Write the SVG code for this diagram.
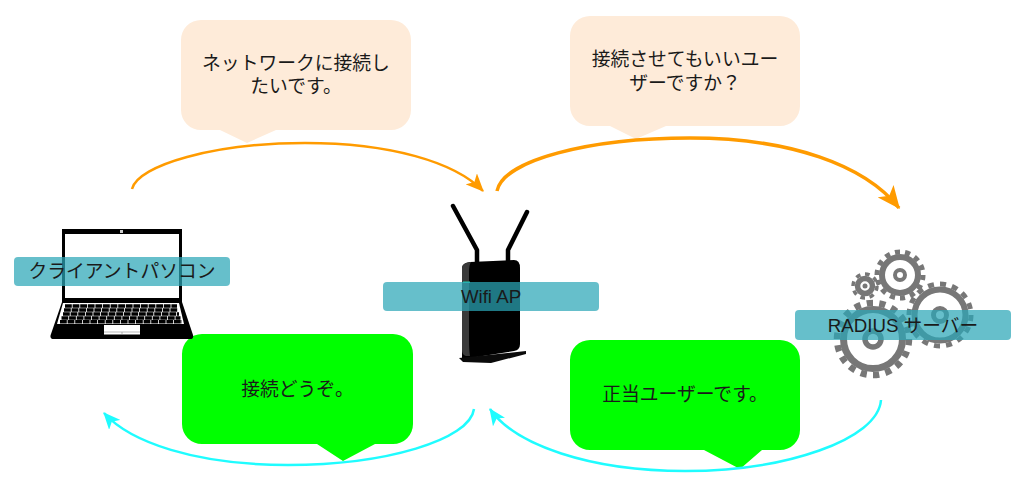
<svg xmlns="http://www.w3.org/2000/svg" width="1024" height="479" viewBox="0 0 1024 479">
<style>
text{font-family:"Noto Sans CJK JP","Liberation Sans",sans-serif;font-size:18.8px;fill:#1a1a1a;text-anchor:middle;font-weight:400}
.lat{font-family:"Liberation Sans","Noto Sans CJK JP",sans-serif;font-size:18.7px}
.label{fill:#2ba6b7;fill-opacity:.72}
.peach{fill:#feebd9}
.green{fill:#00ff00}
.or{fill:none;stroke:#ff9b00}
.cy{fill:none;stroke:#1ffcff;stroke-width:2.500}
.gear{fill:none;stroke:#777}
.key{fill:none;stroke:#000;stroke-width:3.500;stroke-dasharray:6.800 .8}
</style>
<defs>
<marker id="ao" viewBox="0 0 16 14" refX="15" refY="7" markerUnits="userSpaceOnUse" markerWidth="18" markerHeight="16" orient="auto"><path d="M0 0L16 7L0 14L4 7Z" fill="#ff9b00"/></marker>
<marker id="ao2" viewBox="0 0 16 14" refX="15" refY="7" markerUnits="userSpaceOnUse" markerWidth="23" markerHeight="20" orient="auto"><path d="M0 0L16 7L0 14L4 7Z" fill="#ff9b00"/></marker>
<marker id="ac" viewBox="0 0 16 14" refX="15" refY="7" markerUnits="userSpaceOnUse" markerWidth="17" markerHeight="15" orient="auto"><path d="M0 0L16 7L0 14L4 7Z" fill="#1ffcff"/></marker>
</defs>
<g id="bubble-request">
<path class="peach" d="M201 20H391a20 20 0 0 1 20 20V110a20 20 0 0 1-20 20H276L247 143L220 130H201a20 20 0 0 1-20-20V40a20 20 0 0 1 20-20Z"/>
<text x="296" y="69.500">ネットワークに接続し</text><text x="296" y="93">たいです。</text>
</g>
<g id="bubble-query">
<path class="peach" d="M590 16H780a20 20 0 0 1 20 20V106a20 20 0 0 1-20 20H666L636 139L610 126H590a20 20 0 0 1-20-20V36a20 20 0 0 1 20-20Z"/>
<text x="685" y="66">接続させてもいいユー</text><text x="685" y="90">ザーですか？</text>
</g>
<g id="bubble-ok">
<path class="green" d="M202 334H393a20 20 0 0 1 20 20V424a20 20 0 0 1-20 20H375L343 461L317 444H202a20 20 0 0 1-20-20V354a20 20 0 0 1 20-20Z"/>
<text x="297.500" y="396">接続どうぞ。</text>
</g>
<g id="bubble-valid">
<path class="green" d="M590 340H780a20 20 0 0 1 20 20V430a20 20 0 0 1-20 20H762L740 469L704 450H590a20 20 0 0 1-20-20V360a20 20 0 0 1 20-20Z"/>
<text x="685" y="401">正当ユーザーです。</text>
</g>
<g id="connectors">
<path class="or" stroke-width="2.500" marker-end="url(#ao)" d="M132 189C138 165 215 143 305 143C390 143 455 162 483 191"/>
<path class="or" stroke-width="3.500" marker-end="url(#ao2)" d="M497 191C503 160 590 138 690 138C790 138 865 165 899 208"/>
<path class="cy" marker-end="url(#ac)" d="M474 409C470 440 385 465 288 465C195 465 130 442 104 413"/>
<path class="cy" marker-end="url(#ac)" d="M881 400C878 440 785 471 685 471C590 471 515 445 490 409"/>
</g>
<g id="laptop">
<path fill="#000" d="M62 229H182V302L193 335Q194 339 190 339H54Q49 339 51 334L62 302Z"/>
<rect x="65" y="234" width="114" height="64" fill="#fff"/>
<rect x="120" y="230" width="3" height="3" fill="#ccc"/>
<path fill="#fff" d="M63 303H179L184 324H57Z"/>
<path class="key" d="M65 306H177M64 310H178M63 314H179M61.500 318H180.500M60 321.800H182"/>
<rect x="104" y="325" width="36" height="9.500" fill="#fff"/>
<path stroke="#888" stroke-width=".6" d="M122 332V334.500M104 332H140"/>
</g>
<g id="router">
<path d="M453 206L477 250V263M527 212L508 250V263" fill="none" stroke="#000" stroke-width="4.500" stroke-linecap="round" stroke-linejoin="round"/>
<path fill="#000" d="M470 262L514 260Q520 260 520 268V344Q520 350 514 351L470 358H462V268Q462 263 470 262Z"/>
<path fill="#3a3a3a" d="M471 262Q462 263 462 268V350Q462 355 466 356H470Q469 350 469 340V272Q469 265 471 262Z"/>
<path fill="#1fc9a4" d="M463 281.500H470V283H463Z"/>
<path fill="#0a0a0a" d="M459 358L526 351V354L491 363L463 362Z"/>
</g>
<g id="gears">
<g>
<circle class="gear" cx="873" cy="339" r="36" stroke-width="6.500" pathLength="36" stroke-dasharray="1 1"/>
<circle class="gear" cx="873" cy="339" r="29.500" stroke-width="7"/>
<circle class="gear" cx="873" cy="339" r="8" stroke-width="5.500"/>
</g>
<g>
<circle class="gear" cx="940" cy="315" r="31" stroke-width="5" pathLength="32" stroke-dasharray="1 1"/>
<circle class="gear" cx="940" cy="315" r="25.500" stroke-width="6"/>
<circle class="gear" cx="940" cy="315" r="6.500" stroke-width="5"/>
</g>
<g>
<circle class="gear" cx="900" cy="275" r="23" stroke-width="5" pathLength="28" stroke-dasharray="1 1"/>
<circle class="gear" cx="900" cy="275" r="18" stroke-width="6"/>
<circle class="gear" cx="900" cy="275" r="5" stroke-width="4"/>
</g>
<g>
<circle class="gear" cx="865" cy="286" r="12" stroke-width="3.500" pathLength="16" stroke-dasharray="1 1"/>
<circle class="gear" cx="865" cy="286" r="7.500" stroke-width="5.500"/>
<circle cx="865" cy="286" r="2.500" fill="#777"/>
</g>
</g>
<g id="node-client">
<rect class="label" x="14" y="257" width="216" height="29" rx="4"/>
<text x="122" y="278">クライアントパソコン</text>
</g>
<g id="node-ap">
<rect class="label" x="383" y="282" width="216" height="29" rx="4"/>
<text class="lat" x="491" y="303">Wifi AP</text>
</g>
<g id="node-radius">
<rect class="label" x="795" y="310" width="216" height="30" rx="4"/>
<text class="lat" x="903" y="331.500">RADIUS サーバー</text>
</g>
</svg>
